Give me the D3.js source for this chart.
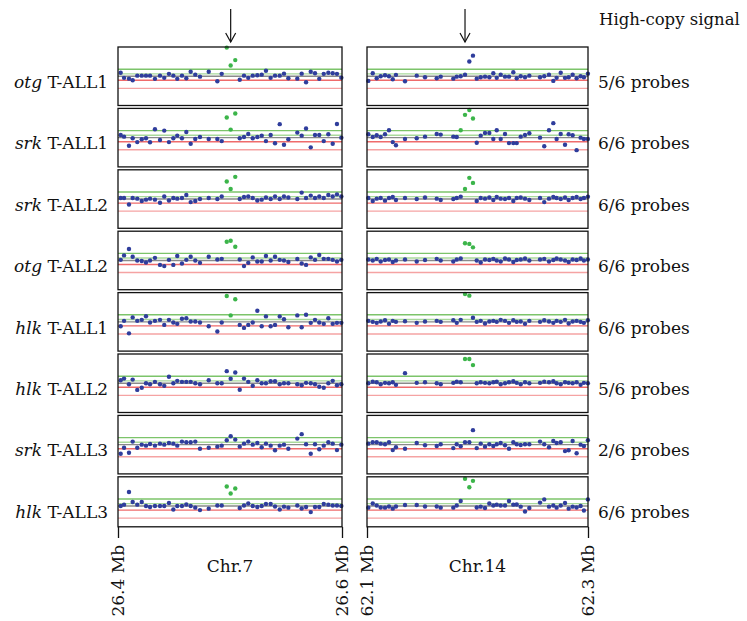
<!DOCTYPE html>
<html>
<head>
<meta charset="utf-8">
<script src="https://cdn.jsdelivr.net/npm/d3@7"></script>
<style>
  body { margin: 0; background: #fff; }
  svg { display: block; font-family: "DejaVu Serif", "Liberation Serif", serif; }
</style>
</head>
<body>
<svg width="747" height="621"></svg>
<script>
// Подписи строк
const genes = ["otg", "srk", "srk", "otg", "hlk", "hlk", "srk", "hlk"];
const samples = ["T-ALL1", "T-ALL1", "T-ALL2", "T-ALL2", "T-ALL1", "T-ALL2", "T-ALL3", "T-ALL3"];
const probeCounts = ["5/6", "6/6", "6/6", "6/6", "6/6", "5/6", "2/6", "6/6"];

// Пороговые линии (log ratio)
const thresholds = [0.35, 0.12, 0, -0.2, -0.6];

// Позиции проб, Mb
const chr7Pos = [26.4024, 26.4054, 26.4098, 26.4131, 26.4172, 26.4212, 26.4250, 26.4286, 26.4330, 26.4375,
  26.4413, 26.4455, 26.4494, 26.4529, 26.4571, 26.4610, 26.4649, 26.4690, 26.4732, 26.4810,
  26.4887, 26.4926, 26.4971, 26.5006, 26.5047, 26.5087, 26.5125, 26.5163, 26.5203, 26.5244,
  26.5283, 26.5321, 26.5363, 26.5402, 26.5444, 26.5482, 26.5521, 26.5601, 26.5640, 26.5679,
  26.5721, 26.5759, 26.5797, 26.5837, 26.5878, 26.5917, 26.5955, 26.5994];

const chr14Pos = [62.1012, 62.1052, 62.1088, 62.1124, 62.1163, 62.1199, 62.1233, 62.1262, 62.1344, 62.1450,
  62.1525, 62.1631, 62.1667, 62.1781, 62.1812, 62.1848, 62.1887, 62.1926, 62.1959, 62.1993,
  62.2029, 62.2068, 62.2107, 62.2143, 62.2174, 62.2210, 62.2249, 62.2285, 62.2324, 62.2355,
  62.2391, 62.2430, 62.2469, 62.2566, 62.2604, 62.2647, 62.2686, 62.2716, 62.2753, 62.2792,
  62.2825, 62.2861, 62.2897, 62.2933, 62.2963, 62.2999];

const chr7Values = [
  [0.17,-0.08,-0.12,-0.2,0.03,0.03,0.03,0.03,-0.13,0.03,-0.08,0.12,0.03,-0.13,0.03,-0.1,0.22,0.08,-0.02,0.22,-0.25,0.12,1.42,0.53,0.8,-0.17,0.03,-0.08,0.03,0.05,0.08,0.27,-0.08,0.03,0.03,0.13,-0.1,-0.12,0.13,-0.3,0.22,0.15,-0.13,0.12,0.17,0.15,0.12,-0.07],
  [0.13,0.05,-0.4,-0.03,-0.22,-0.08,-0.03,-0.23,0.42,-0.12,0.35,-0.22,-0.03,0.1,-0.03,0.28,-0.3,-0.07,0.03,-0.07,-0.07,-0.17,1.0,0.4,1.2,-0.03,0.03,0.18,-0.03,0.03,0.1,-0.17,0.13,-0.28,0.67,-0.35,-0.08,0.25,0.1,0.45,-0.48,0.13,0.13,-0.17,0.17,-0.3,0.68,0],
  [0.05,0.05,-0.27,0.05,0.02,-0.1,-0.03,0.02,-0.03,-0.18,0.13,-0.07,0.05,0.02,0.05,0.2,-0.15,-0.1,0,0.05,0,0.13,0.87,0.5,1.1,0,0.1,0.13,0.05,-0.07,-0.03,0.08,0,0.13,0,0.13,0.08,0,0.32,0.05,0.17,0.05,0.13,0.05,0.2,0.13,0.23,0.13],
  [0.03,0.25,0.57,0.18,0,-0.03,-0.1,0,0.13,-0.22,-0.28,0.03,-0.22,0.22,-0.15,0.03,0.18,0,-0.12,0.18,0.05,0.08,0.93,0.98,0.68,0.05,-0.28,-0.12,0.15,-0.05,-0.05,0.22,0,0.18,0.03,0,-0.08,0.07,-0.15,-0.22,0.15,0.03,0.27,0.08,0.08,0.03,-0.05,0.03],
  [-0.22,0.05,-0.57,0.22,0.05,0.1,0.28,-0.03,0.05,0.1,-0.15,0.1,-0.03,-0.1,0.15,0.18,0.02,0.02,-0.03,-0.22,-0.48,-0.03,1.28,0.32,1.12,-0.15,-0.3,-0.15,-0.03,0.55,-0.22,0.27,-0.22,-0.15,0.27,0.13,-0.27,0.32,-0.27,0.35,-0.05,0.1,-0.03,-0.1,0.18,-0.1,-0.05,-0.05],
  [0.15,0.23,-0.05,0.18,-0.33,-0.22,0,-0.05,0.07,-0.05,-0.13,0.32,0,0.12,0.07,0.07,0.07,0,-0.05,0.15,0,0,0.6,0.22,0.53,-0.32,0.23,0.07,-0.13,0.15,0,0,0.1,0.1,-0.05,0,0,-0.05,-0.1,0.02,0,-0.05,-0.17,-0.22,0,0.12,-0.1,-0.05],
  [-0.45,-0.15,-0.4,0.15,-0.15,0,-0.05,0.03,-0.05,0.05,0,0.08,0.05,-0.05,0.15,0.12,0.12,0.15,-0.2,-0.15,-0.1,-0.05,0.22,0.42,0.25,-0.1,0.05,0.15,0,0.08,-0.13,0.05,-0.05,-0.28,-0.05,0,-0.2,0.3,0.52,0.02,-0.45,0.02,-0.23,-0.05,0.12,0.05,-0.27,0],
  [0,0.07,0.7,0.2,0.07,0.2,0,-0.05,0,0,0,0.15,-0.17,0,0,0.08,0,-0.08,-0.2,-0.13,0.03,0.03,0.97,0.62,0.87,-0.1,0.03,0.13,0,-0.05,0,0.1,0.1,-0.02,-0.17,-0.03,-0.08,0.03,-0.12,-0.05,-0.3,-0.05,-0.05,0.1,0.07,0.03,0.03,0]
];

const chr14Values = [
  [-0.23,0.15,-0.1,0,0.05,0,-0.15,0.07,-0.25,0.03,-0.05,-0.1,-0.02,-0.12,-0.02,0,0.08,0.73,1.02,-0.12,-0.05,-0.02,-0.05,0.15,-0.08,0.08,-0.02,-0.02,0.2,-0.1,0,-0.05,0.03,-0.05,0,0.08,-0.23,-0.08,0.17,-0.08,-0.05,0.08,-0.1,0,-0.05,0.13],
  [0.17,0.03,0.12,0.03,0.17,0.37,-0.22,-0.38,-0.07,-0.03,0.05,0.18,0.15,0.05,0.03,0.37,1.13,1.37,0.95,-0.25,0.1,0.23,0.23,-0.07,0.37,-0.07,0.18,-0.27,-0.27,-0.27,0.05,0.13,0.22,0,-0.43,0.37,0.72,-0.07,0.18,-0.35,0.17,0.12,-0.62,0,-0.07,-0.07],
  [0.05,-0.1,0.02,0.05,-0.08,0.05,0.1,-0.05,0.05,0.0,0.08,0.02,-0.05,0.0,0.05,0.12,0.5,1.05,0.8,-0.1,0.05,0.02,0.08,-0.05,0.1,0.02,0.0,0.05,-0.1,0.05,0.08,0.02,-0.05,0.05,-0.15,0.02,0.1,0.05,0.0,0.08,-0.05,0.05,0.1,0.0,0.05,0.12],
  [0.05,0.0,0.08,-0.05,0.02,0.05,-0.08,0.0,0.05,-0.05,0.02,0.08,0.0,-0.05,0.05,0.1,0.85,0.82,0.65,0.0,-0.1,0.05,0.02,0.08,0.0,-0.05,0.1,0.05,-0.08,0.02,0.05,0.1,0.0,0.05,0.08,-0.05,0.02,0.1,0.05,0.0,-0.08,0.05,0.02,0.1,0.0,0.05],
  [0.05,0.0,-0.05,0.02,0.08,-0.1,0.05,0.0,0.03,-0.05,0.02,0.05,0.0,0.08,-0.05,0.1,1.38,1.3,0.2,0.0,0.05,-0.08,0.02,0.05,0.0,0.1,0.05,-0.05,0.08,0.0,0.02,-0.1,0.05,0.0,0.08,0.02,-0.05,0.05,0.0,0.1,-0.08,0.02,0.05,0.0,-0.05,0.08],
  [0.0,0.08,0.05,-0.05,0.02,0.0,0.05,-0.08,0.5,0.02,0.05,0.0,-0.05,0.02,0.08,0.05,1.2,1.2,0.9,0.0,0.05,0.02,0.0,0.05,0.08,-0.05,0.0,0.05,0.1,0.02,-0.05,0.05,0.0,0.02,0.08,0.05,0.1,0.0,-0.05,0.05,0.02,0.0,0.05,-0.08,0.02,0.0],
  [0.05,0.12,0.12,0.05,0.02,0.12,-0.27,-0.13,-0.2,0.08,-0.03,-0.07,0.02,-0.17,0.02,-0.08,0.12,0.12,0.72,-0.17,0.05,-0.1,0.02,-0.07,0.02,0.08,-0.03,-0.2,0.12,0.02,-0.02,0.02,0.02,0.15,0.02,-0.13,0.18,0.08,0.12,-0.32,-0.28,0.18,-0.43,0,-0.07,0.22],
  [-0.08,0.13,0.03,-0.07,-0.08,-0.02,-0.13,-0.02,0.05,0.05,-0.02,-0.02,-0.08,-0.08,0.03,0.25,1.35,0.93,1.25,-0.07,-0.03,-0.1,0.13,0.03,0.07,0.03,0.03,0.25,0.07,0.08,-0.03,-0.27,-0.1,0.17,0.33,-0.03,0.03,-0.08,0.03,0.15,-0.13,-0.03,-0.07,0,-0.22,0.33]
];

// Отмечены ли пики зелёным
const chr7Green = [true, true, true, true, true, false, false, true];
const chr14Green = [false, true, true, true, true, true, false, true];

const chromosomes = [
  { name: "Chr.7", domain: [26.4, 26.6], range: [118, 342], pos: chr7Pos, values: chr7Values, green: chr7Green, spike: [22, 24] },
  { name: "Chr.14", domain: [62.1, 62.3], range: [367, 588], pos: chr14Pos, values: chr14Values, green: chr14Green, spike: [15, 18] }
];

const attr = { top: 47, pitch: 61.4, panelH: 58.5, lastH: 50, axisY: 538, fontSize: "17px" };
const lineColors = ["#7cc46a", "#a9d99b", "#8a8a8a", "#ef6b6b", "#f5a3a3"];

const svg = d3.select("svg");

const scaleY = d3.scaleLinear().domain([-1.45, 1.45]).range([attr.panelH, 0]);

function drawPanel(chr, row) {
  const scaleX = d3.scaleLinear().domain(chr.domain).range(chr.range);
  const top = attr.top + row * attr.pitch;
  const h = row === 7 ? attr.lastH : attr.panelH;
  const g = svg.append("g").attr("transform", `translate(0, ${top})`);

  g.selectAll(".thr")
    .data(thresholds)
    .enter()
    .append("line")
    .attr("x1", chr.range[0])
    .attr("x2", chr.range[1])
    .attr("y1", d => scaleY(d))
    .attr("y2", d => scaleY(d))
    .attr("stroke", (d, i) => lineColors[i])
    .attr("stroke-width", 1.4);

  const pts = chr.pos.map((p, i) => ({ x: p, v: chr.values[row][i], i: i }));

  g.selectAll("circle")
    .data(pts)
    .enter()
    .append("circle")
    .attr("cx", d => scaleX(d.x))
    .attr("cy", d => scaleY(d.v))
    .attr("r", 2.2)
    .style("fill", d => (chr.green[row] && d.i >= chr.spike[0] && d.i <= chr.spike[1] && d.v > 0.3) ? "#3cb54a" : "#2f3d9c");

  g.append("rect")
    .attr("x", chr.range[0])
    .attr("y", 0)
    .attr("width", chr.range[1] - chr.range[0])
    .attr("height", h)
    .attr("fill", "none")
    .attr("stroke", "#111")
    .attr("stroke-width", 1.3);
}

function drawAxis(chr) {
  const scaleX = d3.scaleLinear().domain(chr.domain).range(chr.range);
  const lastBottom = attr.top + 7 * attr.pitch + attr.lastH;
  const axis = d3.axisBottom(scaleX)
    .tickValues(chr.domain)
    .tickSize(attr.axisY - lastBottom)
    .tickFormat(d => d.toFixed(1) + " Mb");

  const ax = svg.append("g")
    .attr("transform", `translate(0, ${lastBottom})`)
    .call(axis);
  ax.select(".domain").remove();
  ax.selectAll("line").attr("stroke", "#111").attr("stroke-width", 1.3);
  ax.selectAll("text")
    .style("font-family", "DejaVu Serif, serif")
    .style("font-size", attr.fontSize)
    .attr("fill", "#111")
    .attr("text-anchor", "end")
    .attr("transform", "rotate(-90)")
    .attr("x", -(attr.axisY - lastBottom) - 7)
    .attr("y", 0)
    .attr("dx", 0)
    .attr("dy", "0.35em");

  const mid = (chr.range[0] + chr.range[1]) / 2;
  svg.append("text")
    .attr("x", mid)
    .attr("y", 572)
    .attr("text-anchor", "middle")
    .style("font-size", attr.fontSize)
    .attr("fill", "#111")
    .text(chr.name);

  // стрелка над пиком
  const ax0 = scaleX(chr.pos[chr.spike[0] + 1]);
  svg.append("line").attr("x1", ax0).attr("x2", ax0).attr("y1", 9).attr("y2", 42)
    .attr("stroke", "#111").attr("stroke-width", 1.2);
  svg.append("path")
    .attr("d", `M${ax0 - 5},33 L${ax0},42 L${ax0 + 5},33`)
    .attr("fill", "none").attr("stroke", "#111").attr("stroke-width", 1.2);
}

for (let row = 0; row < 8; row++) {
  chromosomes.forEach(chr => drawPanel(chr, row));

  const y = attr.top + row * attr.pitch + 41;
  const label = svg.append("text")
    .attr("x", 108)
    .attr("y", y)
    .attr("text-anchor", "end")
    .style("font-size", attr.fontSize)
    .attr("fill", "#111");
  label.append("tspan").style("font-style", "italic").text(genes[row]);
  label.append("tspan").text(" " + samples[row]);

  svg.append("text")
    .attr("x", 598)
    .attr("y", y)
    .style("font-size", attr.fontSize)
    .attr("fill", "#111")
    .text(probeCounts[row] + " probes");
}

chromosomes.forEach(drawAxis);

svg.append("text")
  .attr("x", 599)
  .attr("y", 25)
  .style("font-size", "16.5px")
  .attr("fill", "#111")
  .text("High-copy signal");
</script>
</body>
</html>
